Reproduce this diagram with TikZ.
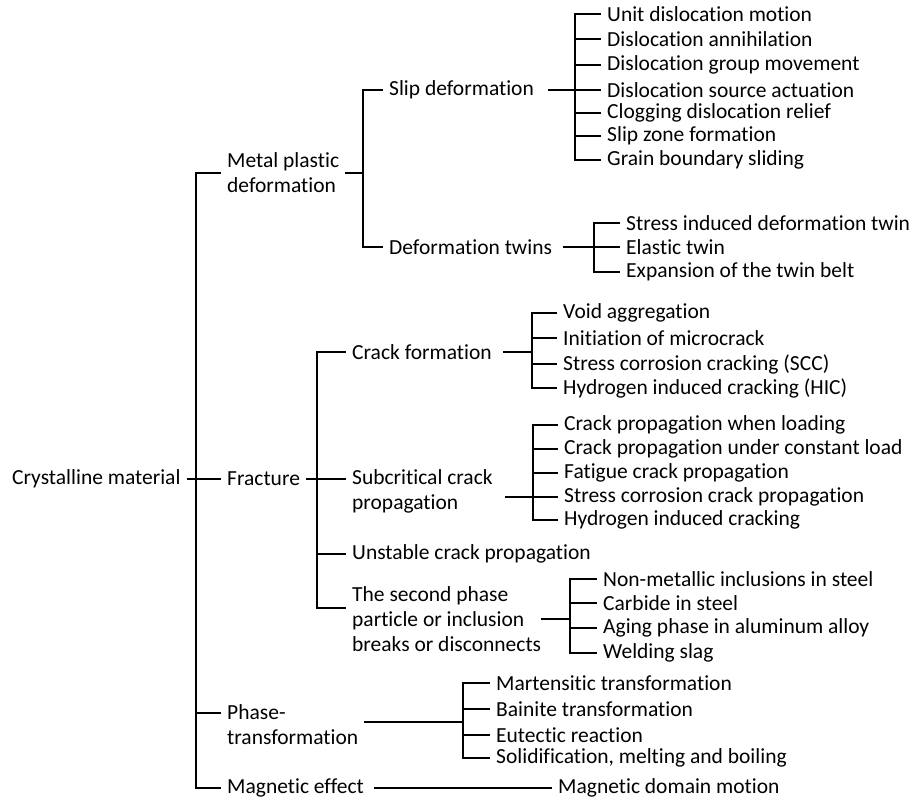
\documentclass[tikz,border=0pt]{standalone}
\usepackage{fontspec}
\setmainfont[Ligatures=NoCommon]{Carlito}
\usepackage{tikz}
\tikzstyle{topic} = [anchor=west, inner xsep=6pt, inner ysep=0pt, align=left, font=\fontsize{21.5}{25}\selectfont]
\tikzstyle{branch} = [line width=2pt]
\tikzstyle{thinbranch} = [line width=1.3pt]

\begin{document}
\begin{tikzpicture}[x=1pt, y=-1pt]

    \useasboundingbox (0,0) rectangle (915,800);

% Root
    \node (root) at (6,479) [topic] {Crystalline material};
    \coordinate (rootj) at (196,479);

    % Level 1: mechanisms
    \node (metal) at (221,172.5) [topic] {Metal plastic\\deformation};
    \node (fracture) at (221,479) [topic] {Fracture};
    \node (phase) at (221,725) [topic] {Phase-\\transformation};
    \node (magnetic) at (221,788) [topic] {Magnetic effect};
    \draw[branch] (root.east) -- (fracture.west);
    \draw[branch] (metal.west) -| (rootj) |- (magnetic.west);
    \draw[branch] (rootj) |- ([yshift=12pt]phase.west);

    % Metal plastic deformation
    \coordinate (metalj) at (363,172.5);
    \node (slip) at (383,90) [topic] {Slip deformation};
    \node (twin) at (383,247) [topic] {Deformation twins};
    \draw[branch] (metal.east) -- (metalj);
    \draw[branch] (slip.west) -| (metalj) |- (twin.west);

    % Slip deformation
    \coordinate (slipj) at (575,90);
    \node (slip1) at (601,14) [topic] {Unit dislocation motion};
    \node (slip2) at (601,39) [topic] {Dislocation annihilation};
    \node (slip3) at (601,65) [topic] {Dislocation group movement};
    \node (slip4) at (601,90) [topic] {Dislocation source actuation};
    \node (slip5) at (601,113) [topic] {Clogging dislocation relief};
    \node (slip6) at (601,136) [topic] {Slip zone formation};
    \node (slip7) at (601,160) [topic] {Grain boundary sliding};
    \draw[branch] ([xshift=8pt]slip.east) -- (slip4.west);
    \draw[branch] (slip1.west) -| (slipj) |- (slip7.west);
    \draw[branch] (slipj) |- (slip2.west);
    \draw[branch] (slipj) |- (slip3.west);
    \draw[branch] (slipj) |- (slip5.west);
    \draw[branch] (slipj) |- (slip6.west);

    % Deformation twins
    \coordinate (twinj) at (594,247);
    \node (twin1) at (620,223) [topic] {Stress induced deformation twin};
    \node (twin2) at (620,247) [topic] {Elastic twin};
    \node (twin3) at (620,272) [topic] {Expansion of the twin belt};
    \draw[branch] ([xshift=5pt]twin.east) -- (twin2.west);
    \draw[branch] (twin1.west) -| (twinj) |- (twin3.west);

    % Fracture
    \coordinate (fracj) at (317,479);
    \node (crack) at (346,352) [topic] {Crack formation};
    \node (subcrit) at (346,491.5) [topic] {Subcritical crack\\propagation};
    \node (unstable) at (346,554) [topic] {Unstable crack propagation};
    \node (second) at (346,619) [topic] {The second phase\\particle or inclusion\\breaks or disconnects};
    \draw[branch] (fracture.east) -- ([yshift=12.5pt]subcrit.west);
    \draw[branch] (crack.west) -| (fracj) |- ([yshift=11pt]second.west);
    \draw[branch] (fracj) |- (unstable.west);

    % Crack formation
    \coordinate (crackj) at (532,352);
    \node (crack1) at (557,313) [topic] {Void aggregation};
    \node (crack2) at (557,338) [topic] {Initiation of microcrack};
    \node (crack3) at (557,364) [topic] {Stress corrosion cracking (SCC)};
    \node (crack4) at (557,388) [topic] {Hydrogen induced cracking (HIC)};
    \draw[branch] ([xshift=5pt]crack.east) -- (crackj);
    \draw[branch] (crack1.west) -| (crackj) |- (crack4.west);
    \draw[branch] (crackj) |- (crack2.west);
    \draw[branch] (crackj) |- (crack3.west);

    % Subcritical crack propagation
    \coordinate (subj) at (533,497);
    \node (sub1) at (558,425) [topic] {Crack propagation when loading};
    \node (sub2) at (558,449) [topic] {Crack propagation under constant load};
    \node (sub3) at (558,473) [topic] {Fatigue crack propagation};
    \node (sub4) at (558,497) [topic] {Stress corrosion crack propagation};
    \node (sub5) at (558,520) [topic] {Hydrogen induced cracking};
    \draw[thinbranch] ([xshift=6pt, yshift=-5.5pt]subcrit.east) -- (subj);
    \draw[branch] (subj) -- (sub4.west);
    \draw[branch] (sub1.west) -| (subj) |- (sub5.west);
    \draw[branch] (subj) |- (sub2.west);
    \draw[branch] (subj) |- (sub3.west);

    % Second phase particle
    \coordinate (secj) at (570,619);
    \node (sec1) at (597,579) [topic] {Non-metallic inclusions in steel};
    \node (sec2) at (597,603) [topic] {Carbide in steel};
    \node (sec3) at (597,628) [topic] {Aging phase in aluminum alloy};
    \node (sec4) at (597,653) [topic] {Welding slag};
    \draw[branch] ([xshift=-6pt]second.east) -- (secj);
    \draw[branch] (sec1.west) -| (secj) |- (sec4.west);
    \draw[branch] (secj) |- (sec2.west);
    \draw[branch] (secj) |- (sec3.west);

    % Phase-transformation
    \coordinate (phasej) at (463,722);
    \node (pha1) at (490,683) [topic] {Martensitic transformation};
    \node (pha2) at (490,709) [topic] {Bainite transformation};
    \node (pha3) at (490,735) [topic] {Eutectic reaction};
    \node (pha4) at (490,758) [topic] {Solidification, melting and boiling};
    \draw[thinbranch] ([yshift=3pt]phase.east) -- (phasej);
    \draw[branch] (pha1.west) -| (phasej) |- (pha4.west);
    \draw[branch] (phasej) |- (pha2.west);
    \draw[branch] (phasej) |- (pha3.west);

    % Magnetic effect
    \node (domain) at (552,788) [topic] {Magnetic domain motion};
    \draw[thinbranch] ([xshift=4pt]magnetic.east) -- (domain.west);

\end{tikzpicture}
\end{document}
